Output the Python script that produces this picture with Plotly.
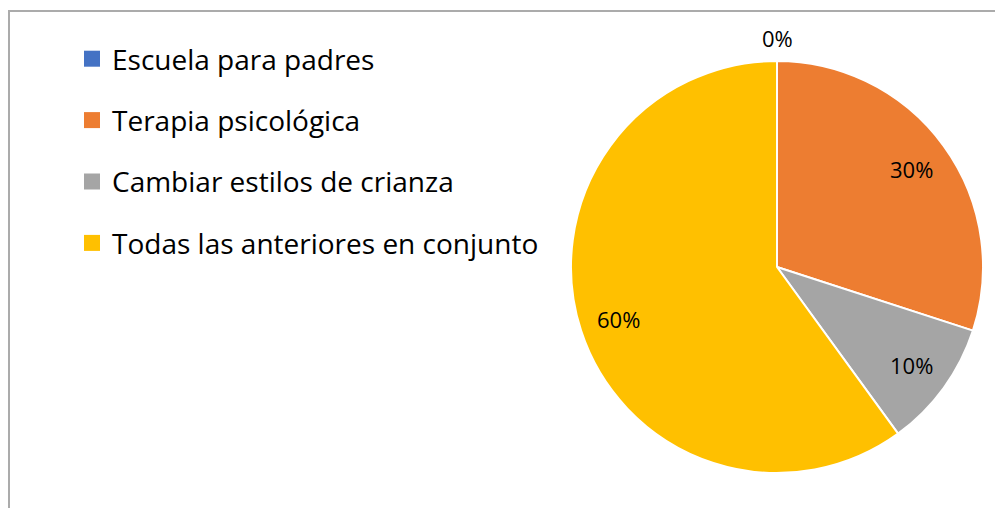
import math
import plotly.graph_objects as go

categories = ["Escuela para padres", "Terapia psicológica", "Cambiar estilos de crianza", "Todas las anteriores en conjunto"]
values = [0, 30, 10, 60]
colors = ["#4472C4", "#ED7D31", "#A5A5A5", "#FFC000"]

# figure area (page body has an 8px margin)
W, H = 995, 500
CX, CY, R = 769, 259, 206  # pie centre / radius in figure pixels

fig = go.Figure()

fig.add_trace(go.Pie(
    labels=categories, values=values, sort=False, direction="clockwise", rotation=0,
    marker=dict(colors=colors, line=dict(color="white", width=2)),
    textinfo="none",
    domain=dict(x=[(CX - R) / W, (CX + R) / W], y=[1 - (CY + R) / H, 1 - (CY - R) / H]),
    showlegend=False, hoverinfo="label+percent",
))

# data labels at mid-angle of each slice (best-fit style, like the original)
total = sum(values)
cum = 0
for v in values:
    mid = (cum + v / 2) / total * 2 * math.pi
    cum += v
    rf = 1.11 if v == 0 else 0.81
    px = CX + rf * R * math.sin(mid)
    py = CY - rf * R * math.cos(mid)
    fig.add_annotation(text=f"{round(v / total * 100)}%", x=px / W, y=1 - py / H,
                       xref="paper", yref="paper", showarrow=False,
                       xanchor="center", yanchor="middle",
                       font=dict(family="Open Sans", size=22, color="#000000"))

for i, (c, col) in enumerate(zip(categories, colors)):
    fig.add_trace(go.Scatter(x=[None], y=[None], mode="markers", name=c,
                             marker=dict(symbol="square", size=16, color=col),
                             legendgroup=f"g{i}", showlegend=True))

fig.update_layout(
    width=W, height=H, margin=dict(l=0, r=0, t=0, b=0),
    paper_bgcolor="white", plot_bgcolor="white",
    xaxis=dict(visible=False), yaxis=dict(visible=False),
    legend=dict(x=64 / W, y=1 - 26 / H, xanchor="left", yanchor="top",
                font=dict(family="Open Sans", size=28, color="#000000"),
                tracegroupgap=22, bgcolor="rgba(0,0,0,0)"),
    shapes=[dict(type="rect", xref="paper", yref="paper",
                 x0=1 / W, x1=1.05, y0=-0.05, y1=1 - 3 / H,
                 line=dict(color="#ABABAB", width=2), layer="below")],
)

fig.write_html("out.html")
